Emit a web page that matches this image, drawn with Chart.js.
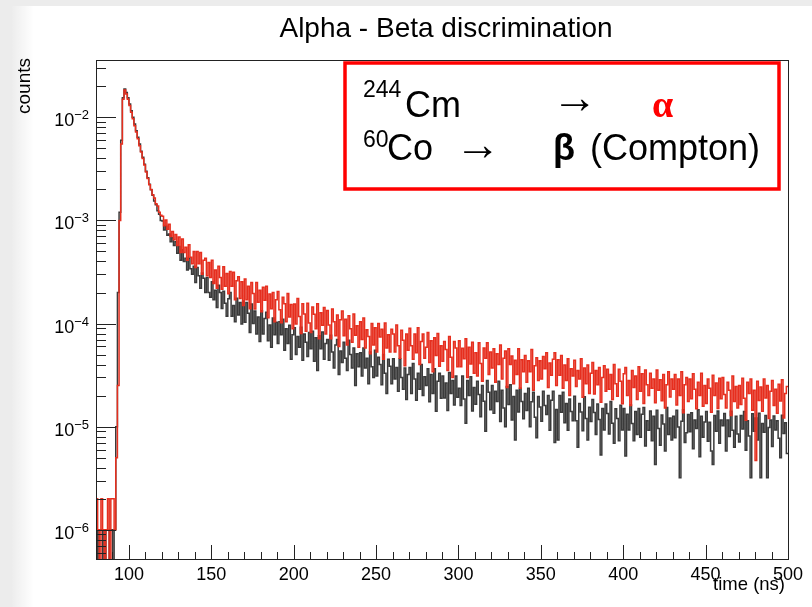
<!DOCTYPE html>
<html>
<head>
<meta charset="utf-8">
<title>Alpha - Beta discrimination</title>
<script src="https://cdn.jsdelivr.net/npm/chart.js@4.4.1/dist/chart.umd.min.js"></script>
<style>
  html, body { margin: 0; padding: 0; background: #fff; }
</style>
</head>
<body>
<canvas id="pulseChart" width="812" height="607"></canvas>
<script>
// 1 ns bins from 80 ns to 500 ns (0 = empty bin)
var binStart = 80;
var binWidth = 1;

// 60Co -> beta (Compton), black
var co60 = [
  1e-6, 0, 1e-6, 1e-6, 0, 1e-6, 0, 0, 1e-6, 1e-6,                                  // 80
  0, 1e-6, 1e-5, 2e-4, 1.2e-3, 6.0e-3, 1.55e-2, 1.88e-2, 1.74e-2, 1.55e-2,          // 90
  1.35e-2, 1.16e-2, 1.0e-2, 8.6e-3, 7.4e-3, 6.4e-3, 5.5e-3, 4.7e-3, 4.1e-3, 3.5e-3, // 100
  3.0e-3, 2.6e-3, 2.24e-3, 1.98e-3, 1.76e-3, 1.54e-3, 1.42e-3, 1.24e-3, 1.15e-3, 1.0e-3,
  9.9e-4, 8.1e-4, 8.8e-4, 7.2e-4, 7.4e-4, 6.2e-4, 6.8e-4, 5.7e-4, 6.2e-4, 4.8e-4,   // 120
  5.6e-4, 4.1e-4, 5.2e-4, 4.0e-4, 4.3e-4, 3.3e-4, 4.3e-4, 3.4e-4, 3.0e-4, 3.6e-4,
  2.5e-4, 3.5e-4, 2.9e-4, 2.2e-4, 3.1e-4, 2.75e-4, 2.0e-4, 2.8e-4, 2.0e-4, 1.8e-4,  // 140
  2.55e-4, 1.7e-4, 2.1e-4, 1.43e-4, 2.35e-4, 2.0e-4, 1.4e-4, 2.06e-4, 1.57e-4, 1.18e-4,
  1.74e-4, 2.0e-4, 1.18e-4, 1.5e-4, 1.04e-4, 1.76e-4, 1.21e-4, 1.6e-4, 9.9e-5, 1.65e-4, // 160
  1.03e-4, 1.6e-4, 1.26e-4, 8.2e-5, 1.55e-4, 1.0e-4, 1.32e-4, 7.9e-5, 1.16e-4, 6.7e-5,
  1.33e-4, 7.9e-5, 1.12e-4, 1.29e-4, 6.8e-5, 9.7e-5, 5.9e-5, 1.13e-4, 7.8e-5, 1.03e-4, // 180
  6.4e-5, 1.04e-4, 7.8e-5, 1.1e-4, 5.5e-5, 8.9e-5, 6.4e-5, 9.6e-5, 4.5e-5, 7.8e-5,
  9.1e-5, 5.0e-5, 7.5e-5, 5.9e-5, 9.2e-5, 4.4e-5, 7.9e-5, 6.6e-5, 4.8e-5, 8.2e-5,   // 200
  5.7e-5, 8.4e-5, 4.3e-5, 7.3e-5, 3.5e-5, 7.6e-5, 5.7e-5, 8.3e-5, 4.5e-5, 6.4e-5,
  7.0e-5, 4.4e-5, 7.7e-5, 5.3e-5, 3.7e-5, 6.2e-5, 7.0e-5, 3.2e-5, 5.4e-5, 4.2e-5,   // 220
  6.6e-5, 4.6e-5, 3.5e-5, 6.9e-5, 5.0e-5, 3.7e-5, 5.8e-5, 2.5e-5, 5.1e-5, 3.8e-5,
  5.2e-5, 3.1e-5, 5.8e-5, 3.7e-5, 4.6e-5, 2.6e-5, 5.3e-5, 3.8e-5, 3.0e-5, 5.5e-5,   // 240
  3.1e-5, 4.7e-5, 4.0e-5, 2.55e-5, 5.0e-5, 3.3e-5, 2.1e-5, 4.5e-5, 3.85e-5, 2.6e-5,
  4.55e-5, 2.9e-5, 3.75e-5, 2.2e-5, 4.55e-5, 3.0e-5, 2.3e-5, 3.7e-5, 1.83e-5, 3.2e-5, // 260
  3.75e-5, 2.1e-5, 4.1e-5, 2.9e-5, 1.8e-5, 3.3e-5, 2.3e-5, 4.0e-5, 2.0e-5, 3.05e-5,
  2.5e-5, 3.65e-5, 1.74e-5, 3.2e-5, 2.1e-5, 3.65e-5, 1.41e-5, 2.75e-5, 3.3e-5, 1.88e-5, // 280
  3.1e-5, 1.9e-5, 2.65e-5, 1.43e-5, 3.35e-5, 2.1e-5, 2.8e-5, 1.62e-5, 3.1e-5, 1.93e-5,
  2.35e-5, 1.6e-5, 3.1e-5, 1.85e-5, 1.08e-5, 2.8e-5, 2.0e-5, 3.05e-5, 1.42e-5, 2.4e-5, // 300
  1.65e-5, 2.75e-5, 2.05e-5, 1.25e-5, 2.5e-5, 1.76e-5, 9.0e-6, 2.8e-5, 2.15e-5, 1.46e-5,
  2.5e-5, 1.35e-5, 2.2e-5, 1.75e-5, 2.75e-5, 1.12e-5, 2.25e-5, 1.52e-5, 1.0e-5, 2.45e-5, // 320
  1.64e-5, 2.55e-5, 1.16e-5, 1.96e-5, 7.4e-6, 2.25e-5, 1.39e-5, 2.35e-5, 1.75e-5, 1.19e-5,
  2.1e-5, 1.43e-5, 2.35e-5, 1.0e-5, 1.74e-5, 2.15e-5, 1.23e-5, 7.8e-6, 1.96e-5, 1.55e-5, // 340
  1.13e-5, 2.2e-5, 1.6e-5, 1.31e-5, 2.0e-5, 9.2e-6, 1.8e-5, 2.2e-5, 7.0e-6, 1.47e-5,
  7.4e-6, 2.0e-5, 1.38e-5, 2.15e-5, 1.09e-5, 1.68e-5, 9.2e-6, 1.85e-5, 1.4e-5, 1.14e-5, // 360
  1.97e-5, 1.14e-5, 6.3e-6, 1.68e-5, 1.39e-5, 9.1e-6, 1.95e-5, 1.2e-5, 7.4e-6, 1.54e-5,
  1.12e-5, 1.83e-5, 1.37e-5, 8.4e-6, 1.66e-5, 1.17e-5, 5.3e-6, 1.5e-5, 9.3e-6, 1.66e-5, // 380
  1.34e-5, 8.5e-6, 1.75e-5, 1.08e-5, 6.9e-6, 1.49e-5, 1.2e-5, 7.3e-6, 1.61e-5, 9.3e-6,
  1.5e-5, 5.2e-6, 1.32e-5, 9.3e-6, 1.62e-5, 1.07e-5, 7.3e-6, 1.4e-5, 8.4e-6, 1.5e-5,   // 400
  7.9e-6, 1.32e-5, 1.53e-5, 6.5e-6, 1.14e-5, 9.2e-6, 1.42e-5, 7.3e-6, 1.26e-5, 4.3e-6,
  1.44e-5, 9.6e-6, 6.6e-6, 1.3e-5, 1.06e-5, 5.8e-6, 1.53e-5, 8.4e-6, 1.21e-5, 7.4e-6,  // 420
  1.26e-5, 7.8e-6, 1.44e-5, 9.9e-6, 3.2e-6, 1.13e-5, 1.46e-5, 7.0e-6, 8.7e-6, 1.31e-5,
  8.9e-6, 1.36e-5, 6.1e-6, 1.16e-5, 9.6e-6, 1.46e-5, 5.1e-6, 1.26e-5, 7.9e-6, 1.11e-5,  // 440
  1.4e-5, 7.2e-6, 1.1e-5, 5.8e-6, 4.3e-6, 1.28e-5, 9.0e-6, 1.42e-5, 6.9e-6, 1.16e-5,
  1.02e-5, 1.34e-5, 5.8e-6, 1.16e-5, 8.0e-6, 1.41e-5, 9.2e-6, 6.3e-6, 1.26e-5, 8.5e-6, // 460
  7.1e-6, 1.28e-5, 9.5e-6, 1.4e-5, 5.9e-6, 1.14e-5, 8.1e-6, 3.2e-6, 1.33e-5, 9.0e-6,
  1.21e-5, 7.4e-6, 1.35e-5, 3.2e-6, 1.07e-5, 8.8e-6, 1.28e-5, 3.2e-6, 9.8e-6, 1.16e-5, // 480
  6.4e-6, 1.27e-5, 9.3e-6, 1.14e-5, 7.7e-6, 5.0e-6, 1.29e-5, 8.6e-6, 1.09e-5, 5.5e-6
];

// 244Cm -> alpha, red
var cm244 = [
  2e-6, 1e-6, 0, 2e-6, 1e-6, 0, 1e-6, 2e-6, 0, 2e-6,                               // 80
  2e-6, 1e-6, 5e-6, 2.5e-5, 1.0e-3, 5.5e-3, 1.5e-2, 1.84e-2, 1.68e-2, 1.5e-2,       // 90
  1.3e-2, 1.12e-2, 9.7e-3, 8.3e-3, 7.2e-3, 6.2e-3, 5.3e-3, 4.6e-3, 4.0e-3, 3.45e-3, // 100
  2.95e-3, 2.55e-3, 2.22e-3, 2.0e-3, 1.78e-3, 1.65e-3, 1.45e-3, 1.38e-3, 1.2e-3, 1.12e-3,
  1.1e-3, 8.9e-4, 1.01e-3, 8.2e-4, 9.2e-4, 7.0e-4, 7.8e-4, 6.5e-4, 7.3e-4, 5.7e-4, // 120
  6.9e-4, 4.9e-4, 6.6e-4, 4.9e-4, 5.5e-4, 4.1e-4, 5.8e-4, 4.4e-4, 3.8e-4, 5.0e-4,
  3.5e-4, 5.0e-4, 3.8e-4, 4.9e-4, 3.0e-4, 4.1e-4, 4.3e-4, 2.9e-4, 3.9e-4, 2.8e-4,   // 140
  4.1e-4, 2.45e-4, 3.3e-4, 2.2e-4, 3.6e-4, 2.8e-4, 2.15e-4, 3.55e-4, 2.3e-4, 3.05e-4,
  1.95e-4, 3.2e-4, 2.3e-4, 3.15e-4, 1.7e-4, 2.6e-4, 2.85e-4, 1.75e-4, 2.55e-4, 1.5e-4, // 160
  2.7e-4, 1.7e-4, 2.3e-4, 1.39e-4, 2.5e-4, 1.96e-4, 1.38e-4, 2.5e-4, 1.61e-4, 2.1e-4,
  1.3e-4, 2.25e-4, 1.68e-4, 2.3e-4, 1.14e-4, 1.93e-4, 1.39e-4, 2.0e-4, 1.04e-4, 1.7e-4, // 180
  2.05e-4, 1.36e-4, 1.02e-4, 1.8e-4, 1.56e-4, 1.04e-4, 1.96e-4, 1.16e-4, 1.53e-4, 8.9e-5,
  1.55e-4, 9.9e-5, 1.75e-4, 1.17e-4, 8.0e-5, 1.56e-4, 1.24e-4, 8.4e-5, 1.57e-4, 1.01e-4, // 200
  8.2e-5, 1.45e-4, 1.23e-4, 8.9e-5, 1.56e-4, 7.1e-5, 1.27e-4, 9.6e-5, 1.43e-4, 7.9e-5,
  1.34e-4, 9.7e-5, 7.1e-5, 1.38e-4, 1.04e-4, 7.6e-5, 1.21e-4, 6.0e-5, 1.09e-4, 1.32e-4, // 220
  7.6e-5, 1.1e-4, 6.2e-5, 1.19e-4, 8.9e-5, 6.6e-5, 1.24e-4, 7.7e-5, 9.5e-5, 5.9e-5,
  1.04e-4, 7.0e-5, 1.13e-4, 5.8e-5, 8.7e-5, 7.5e-5, 5.1e-5, 1.0e-4, 6.2e-5, 9.1e-5,  // 240
  5.3e-5, 1.0e-4, 7.4e-5, 8.8e-5, 4.5e-5, 1.01e-4, 5.8e-5, 7.8e-5, 5.3e-5, 8.8e-5,
  7.9e-5, 5.3e-5, 9.7e-5, 6.1e-5, 4.6e-5, 8.6e-5, 6.9e-5, 3.9e-5, 7.9e-5, 5.5e-5,   // 260
  9.0e-5, 6.1e-5, 4.5e-5, 7.9e-5, 5.2e-5, 9.1e-5, 4.0e-5, 6.7e-5, 7.9e-5, 4.6e-5,
  5.9e-5, 8.2e-5, 4.2e-5, 6.8e-5, 3.4e-5, 7.3e-5, 4.9e-5, 8.0e-5, 3.85e-5, 6.1e-5,  // 280
  4.3e-5, 6.7e-5, 5.6e-5, 3.5e-5, 7.5e-5, 4.7e-5, 3.0e-5, 6.7e-5, 5.8e-5, 3.8e-5,
  6.8e-5, 3.8e-5, 5.75e-5, 4.55e-5, 7.1e-5, 3.0e-5, 5.9e-5, 4.05e-5, 6.6e-5, 3.3e-5, // 300
  5.2e-5, 3.1e-5, 6.5e-5, 4.1e-5, 2.75e-5, 5.8e-5, 4.6e-5, 6.5e-5, 3.2e-5, 5.3e-5,
  3.7e-5, 5.7e-5, 2.7e-5, 5.1e-5, 4.0e-5, 6.2e-5, 2.9e-5, 4.6e-5, 5.4e-5, 2.4e-5,   // 320
  5.7e-5, 4.0e-5, 4.85e-5, 2.6e-5, 4.4e-5, 3.2e-5, 5.7e-5, 2.35e-5, 4.45e-5, 3.4e-5,
  4.9e-5, 2.7e-5, 4.35e-5, 3.4e-5, 5.6e-5, 2.25e-5, 3.9e-5, 4.65e-5, 2.8e-5, 4.35e-5, // 340
  2.9e-5, 4.8e-5, 3.65e-5, 5.2e-5, 2.4e-5, 4.15e-5, 3.15e-5, 4.5e-5, 5.2e-5, 2.5e-5,
  4.45e-5, 3.15e-5, 4.9e-5, 2.35e-5, 3.95e-5, 2.8e-5, 4.55e-5, 2.0e-5, 3.65e-5, 3.1e-5, // 360
  4.4e-5, 2.45e-5, 3.5e-5, 2.9e-5, 4.55e-5, 1.93e-5, 3.7e-5, 2.6e-5, 3.95e-5, 2.1e-5,
  3.3e-5, 4.2e-5, 2.07e-5, 3.5e-5, 2.55e-5, 3.75e-5, 1.72e-5, 3.0e-5, 3.9e-5, 2.2e-5, // 380
  3.6e-5, 2.3e-5, 3.2e-5, 1.83e-5, 4.0e-5, 2.6e-5, 1.97e-5, 3.6e-5, 2.75e-5, 1.67e-5,
  3.25e-5, 3.75e-5, 2.0e-5, 2.8e-5, 1.6e-5, 3.5e-5, 2.4e-5, 3.1e-5, 1.83e-5, 3.8e-5, // 400
  2.2e-5, 3.25e-5, 1.68e-5, 3.55e-5, 2.55e-5, 2.0e-5, 3.3e-5, 2.35e-5, 2.9e-5, 1.7e-5,
  3.55e-5, 2.25e-5, 2.85e-5, 1.78e-5, 3.2e-5, 1.52e-5, 2.55e-5, 3.4e-5, 1.94e-5, 2.9e-5, // 420
  2.3e-5, 3.2e-5, 1.62e-5, 2.9e-5, 2.0e-5, 3.4e-5, 1.36e-5, 2.55e-5, 3.0e-5, 1.75e-5,
  2.9e-5, 1.86e-5, 3.25e-5, 2.3e-5, 1.49e-5, 2.7e-5, 2.0e-5, 3.3e-5, 1.58e-5, 2.5e-5, // 440
  1.68e-5, 2.9e-5, 2.35e-5, 1.38e-5, 3.15e-5, 2.0e-5, 2.65e-5, 1.5e-5, 2.95e-5, 1.86e-5,
  3.0e-5, 2.05e-5, 1.52e-5, 2.7e-5, 2.25e-5, 1.28e-5, 3.1e-5, 1.75e-5, 2.45e-5, 1.52e-5, // 460
  2.5e-5, 1.64e-5, 2.95e-5, 1.88e-5, 1.15e-5, 2.7e-5, 2.1e-5, 2.9e-5, 1.44e-5, 2.25e-5,
  4.7e-6, 2.75e-5, 1.79e-5, 2.43e-5, 1.41e-5, 2.9e-5, 1.9e-5, 2.5e-5, 1.2e-5, 2.2e-5,   // 480
  2.8e-5, 1.6e-5, 2.3e-5, 1.35e-5, 2.58e-5, 1.77e-5, 2.85e-5, 1.21e-5, 2.1e-5, 2.45e-5
];

var xTicks = [100, 150, 200, 250, 300, 350, 400, 450, 500];
var yDecades = [-6, -5, -4, -3, -2];
var xRange = [80, 500];
var yRange = [5.2e-7, 0.036];

// histogram -> points at bin low edges, plus the closing edge
function histPoints(arr) {
  var pts = arr.map(function (v, i) {
    return { x: binStart + i * binWidth, y: v > 0 ? v : 1e-9 };
  });
  pts.push({ x: binStart + arr.length * binWidth, y: pts[pts.length - 1].y });
  return pts;
}

var FONT = "'Liberation Sans', Arial, Helvetica, sans-serif";

var rootStyle = {
  id: 'rootStyle',
  beforeDraw: function (chart) {
    var c = chart.ctx;
    c.save();
    c.fillStyle = '#ffffff';
    c.fillRect(0, 0, chart.width, chart.height);
    c.fillStyle = '#ececec';
    c.fillRect(0, 0, chart.width, 6);
    c.fillRect(0, 0, 12, chart.height);
    var g = c.createLinearGradient(12, 0, 34, 0);
    g.addColorStop(0, 'rgba(0,0,0,0.07)');
    g.addColorStop(1, 'rgba(0,0,0,0)');
    c.fillStyle = g;
    c.fillRect(12, 6, 22, chart.height - 6);
    c.restore();
  },
  afterDraw: function (chart) {
    var c = chart.ctx, a = chart.chartArea;
    var xs = chart.scales.x, ys = chart.scales.y;
    c.save();

    // frame
    c.strokeStyle = '#222';
    c.lineWidth = 1;
    c.strokeRect(Math.round(a.left) + 0.5, Math.round(a.top) + 0.5,
                 Math.round(a.right - a.left), Math.round(a.bottom - a.top));

    // x ticks (inside, pointing up)
    c.beginPath();
    for (var v = xRange[0]; v <= xRange[1]; v += 10) {
      var px = Math.round(xs.getPixelForValue(v)) + 0.5;
      var len = (v % 50 === 0) ? 14 : 7;
      c.moveTo(px, a.bottom);
      c.lineTo(px, a.bottom - len);
    }
    // y ticks (inside, pointing right)
    for (var e = -7; e <= -1; e++) {
      for (var m = 1; m <= 9; m++) {
        var val = m * Math.pow(10, e);
        if (val < yRange[0] || val > yRange[1]) continue;
        var py = Math.round(ys.getPixelForValue(val)) + 0.5;
        c.moveTo(a.left, py);
        c.lineTo(a.left + (m === 1 ? 20 : 10), py);
      }
    }
    c.stroke();

    // y labels 10^n
    c.fillStyle = '#000';
    c.textAlign = 'right';
    c.textBaseline = 'alphabetic';
    yDecades.forEach(function (d) {
      var py = ys.getPixelForValue(Math.pow(10, d));
      var exp = '\u2212' + Math.abs(d);
      c.font = '13px ' + FONT;
      var ew = c.measureText(exp).width;
      c.fillText(exp, 89, py + 2);
      c.font = '18px ' + FONT;
      c.fillText('10', 89 - ew, py + 9);
    });

    // title
    c.textAlign = 'center';
    c.font = '28px ' + FONT;
    c.fillText('Alpha - Beta discrimination', 446, 37);

    // axis titles
    c.font = '18.5px ' + FONT;
    c.textAlign = 'right';
    c.fillText('time (ns)', 785, 590);
    c.save();
    c.translate(30, 58);
    c.rotate(-Math.PI / 2);
    c.font = '19px ' + FONT;
    c.fillText('counts', 0, 0);
    c.restore();

    // source box
    c.fillStyle = '#fff';
    c.fillRect(345, 63, 434, 126);
    c.strokeStyle = '#ff0000';
    c.lineWidth = 3.5;
    c.strokeRect(345, 63, 434, 126);

    c.textAlign = 'left';
    c.fillStyle = '#000';
    c.font = '23px ' + FONT;
    c.fillText('244', 363, 97);
    c.fillText('60', 363, 147);
    c.font = '36px ' + FONT;
    c.fillText('Cm', 405, 117);
    c.fillText('Co', 387, 160);
    c.fillText('(Compton)', 590, 160);
    c.font = '46px ' + FONT;
    c.fillText('\u2192', 552, 113);
    c.fillText('\u2192', 455, 160);
    c.font = 'bold 36px ' + FONT;
    c.fillText('\u03B2', 553, 160);
    c.fillStyle = '#ff0000';
    c.font = "bold 38px 'Liberation Serif', 'Times New Roman', serif";
    c.fillText('\u03B1', 652, 117);

    c.restore();
  }
};

new Chart(document.getElementById('pulseChart'), {
  type: 'line',
  data: {
    datasets: [
      {
        label: '60Co',
        data: histPoints(co60),
        borderColor: '#3a3a3a',
        borderWidth: 1.5,
        pointRadius: 0,
        stepped: 'before',
        fill: false,
        order: 1
      },
      {
        label: '244Cm',
        data: histPoints(cm244),
        borderColor: '#e62e1e',
        borderWidth: 1.5,
        pointRadius: 0,
        stepped: 'before',
        fill: false,
        order: 0
      }
    ]
  },
  options: {
    responsive: false,
    animation: false,
    layout: { padding: { top: 60, right: 24, bottom: 0, left: 0 } },
    plugins: {
      legend: { display: false },
      title: { display: false },
      tooltip: { enabled: false }
    },
    scales: {
      x: {
        type: 'linear',
        min: xRange[0],
        max: xRange[1],
        grid: { display: false, drawTicks: false },
        border: { display: false },
        afterBuildTicks: function (s) {
          s.ticks = xTicks.map(function (v) { return { value: v }; });
        },
        afterFit: function (s) { s.height = 48; },
        ticks: {
          color: '#000',
          font: { family: FONT, size: 18 },
          padding: 5,
          maxRotation: 0,
          autoSkip: false
        }
      },
      y: {
        type: 'logarithmic',
        min: yRange[0],
        max: yRange[1],
        grid: { display: false, drawTicks: false },
        border: { display: false },
        ticks: { display: false },
        afterFit: function (s) { s.width = 96; }
      }
    }
  },
  plugins: [rootStyle]
});
</script>
</body>
</html>
